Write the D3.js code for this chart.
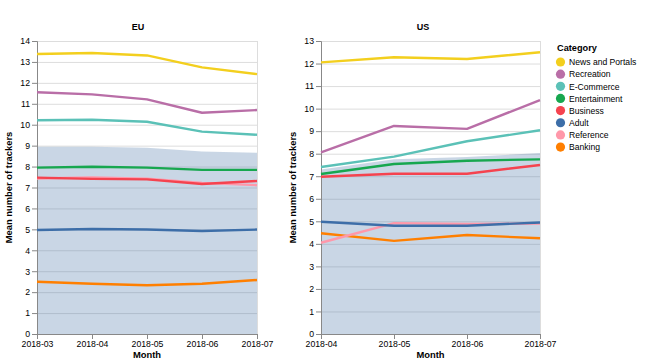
<!DOCTYPE html>
<html>
<head>
<meta charset="utf-8">
<script src="https://cdn.jsdelivr.net/npm/d3@7"></script>
<style>
  body { margin: 0; background: #fff; }
  svg text { font-family: "Liberation Sans", Arial, sans-serif; }
</style>
</head>
<body>
<div id="chart"></div>
<script>
// categories in legend order
var categories = ["News and Portals", "Recreation", "E-Commerce", "Entertainment",
                  "Business", "Adult", "Reference", "Banking"];
var colors = ["#f3cf1e", "#b96ea7", "#5bc1b7", "#17a74f", "#f5434f", "#3d6ea8", "#ff98aa", "#ff7f00"];

var euMonths = ["2018-03", "2018-04", "2018-05", "2018-06", "2018-07"];
var usMonths = ["2018-04", "2018-05", "2018-06", "2018-07"];

// mean number of trackers per category (same order as categories)
var euValues = [
  [13.38, 13.43, 13.31, 12.74, 12.42],
  [11.55, 11.45, 11.21, 10.57, 10.70],
  [10.21, 10.24, 10.14, 9.67, 9.52],
  [7.95, 7.99, 7.95, 7.84, 7.84],
  [7.47, 7.41, 7.39, 7.17, 7.31],
  [4.97, 5.02, 4.99, 4.92, 4.99],
  [7.43, 7.48, 7.42, 7.22, 7.11],
  [2.50, 2.40, 2.33, 2.40, 2.58]
];
var usValues = [
  [12.05, 12.28, 12.20, 12.50],
  [8.06, 9.23, 9.10, 10.38],
  [7.41, 7.87, 8.55, 9.04],
  [7.10, 7.54, 7.69, 7.75],
  [6.98, 7.11, 7.11, 7.50],
  [4.98, 4.80, 4.80, 4.95],
  [4.05, 4.92, 4.88, 4.90],
  [4.47, 4.13, 4.39, 4.25]
];
// overall mean (shaded area)
var euOverall = [8.95, 8.95, 8.90, 8.72, 8.66];
var usOverall = [7.30, 7.75, 7.85, 8.03];

var svg = d3.select("#chart").append("svg")
    .attr("width", 648)
    .attr("height", 364);

function drawPanel(title, months, values, overall, yMax, left, width, titleX) {
  var top = 41, height = 293;
  var g = svg.append("g").attr("transform", "translate(" + left + "," + top + ")");

  var x = d3.scalePoint().domain(months).range([0, width]);
  var y = d3.scaleLinear().domain([0, yMax]).range([height, 0]);

  // view frame
  g.append("rect")
    .attr("x", 0.5).attr("y", 0.5)
    .attr("width", width).attr("height", height)
    .style("fill", "none")
    .style("stroke", "#ddd");

  // grid
  g.append("g").selectAll("line")
    .data(y.ticks(yMax))
    .enter().append("line")
      .attr("x1", 0).attr("x2", width)
      .attr("y1", function(d) { return y(d) + 0.5; })
      .attr("y2", function(d) { return y(d) + 0.5; })
      .style("stroke", "#ddd");

  // overall mean area
  g.append("path")
    .datum(overall)
    .attr("d", d3.area()
      .x(function(d, i) { return x(months[i]); })
      .y0(height)
      .y1(function(d) { return y(d); }))
    .style("fill", "#4c78a8")
    .style("opacity", 0.3);

  // axes
  var xAxis = g.append("g")
    .attr("transform", "translate(0," + height + ")")
    .call(d3.axisBottom(x).tickSize(5).tickPadding(2));
  var yAxis = g.append("g")
    .call(d3.axisLeft(y).ticks(yMax).tickSize(5).tickPadding(2));
  [xAxis, yAxis].forEach(function(a) {
    a.selectAll("path, line").style("stroke", "#888");
    a.selectAll("text").style("font-size", "8.7px").style("fill", "#000");
  });

  // lines, drawn bottom category first so top ones overlay
  var line = d3.line()
    .x(function(d, i) { return x(months[i]); })
    .y(function(d) { return y(d); });
  for (var i = categories.length - 1; i >= 0; i--) {
    g.append("path")
      .datum(values[i])
      .attr("d", line)
      .style("fill", "none")
      .style("stroke", colors[i])
      .style("stroke-width", 2.4)
      .style("stroke-linejoin", "round");
  }

  // titles
  svg.append("text")
    .attr("x", titleX).attr("y", 30)
    .attr("text-anchor", "middle")
    .style("font-size", "9px").style("font-weight", "bold")
    .text(title);
  svg.append("text")
    .attr("x", left + width / 2).attr("y", 358)
    .attr("text-anchor", "middle")
    .style("font-size", "9.4px").style("font-weight", "bold")
    .text("Month");
  svg.append("text")
    .attr("transform", "translate(" + (left - 25.5) + "," + (top + height / 2) + ") rotate(-90)")
    .attr("text-anchor", "middle")
    .style("font-size", "9.4px").style("font-weight", "bold")
    .text("Mean number of trackers");
}

drawPanel("EU", euMonths, euValues, euOverall, 14, 37, 220, 138);
drawPanel("US", usMonths, usValues, usOverall, 13, 321, 219, 423);

// legend
var legend = svg.append("g").attr("transform", "translate(556,0)");
legend.append("text")
  .attr("x", 1).attr("y", 51)
  .style("font-size", "9.2px").style("font-weight", "bold")
  .text("Category");
var item = legend.selectAll("g.item")
  .data(categories)
  .enter().append("g")
    .attr("class", "item")
    .attr("transform", function(d, i) { return "translate(0," + (62 + i * 12.15) + ")"; });
item.append("circle")
  .attr("cx", 4.5).attr("cy", 0).attr("r", 4.6)
  .style("fill", function(d, i) { return colors[i]; });
item.append("text")
  .attr("x", 13).attr("y", 3.2)
  .style("font-size", "8.6px")
  .text(function(d) { return d; });
</script>
</body>
</html>
